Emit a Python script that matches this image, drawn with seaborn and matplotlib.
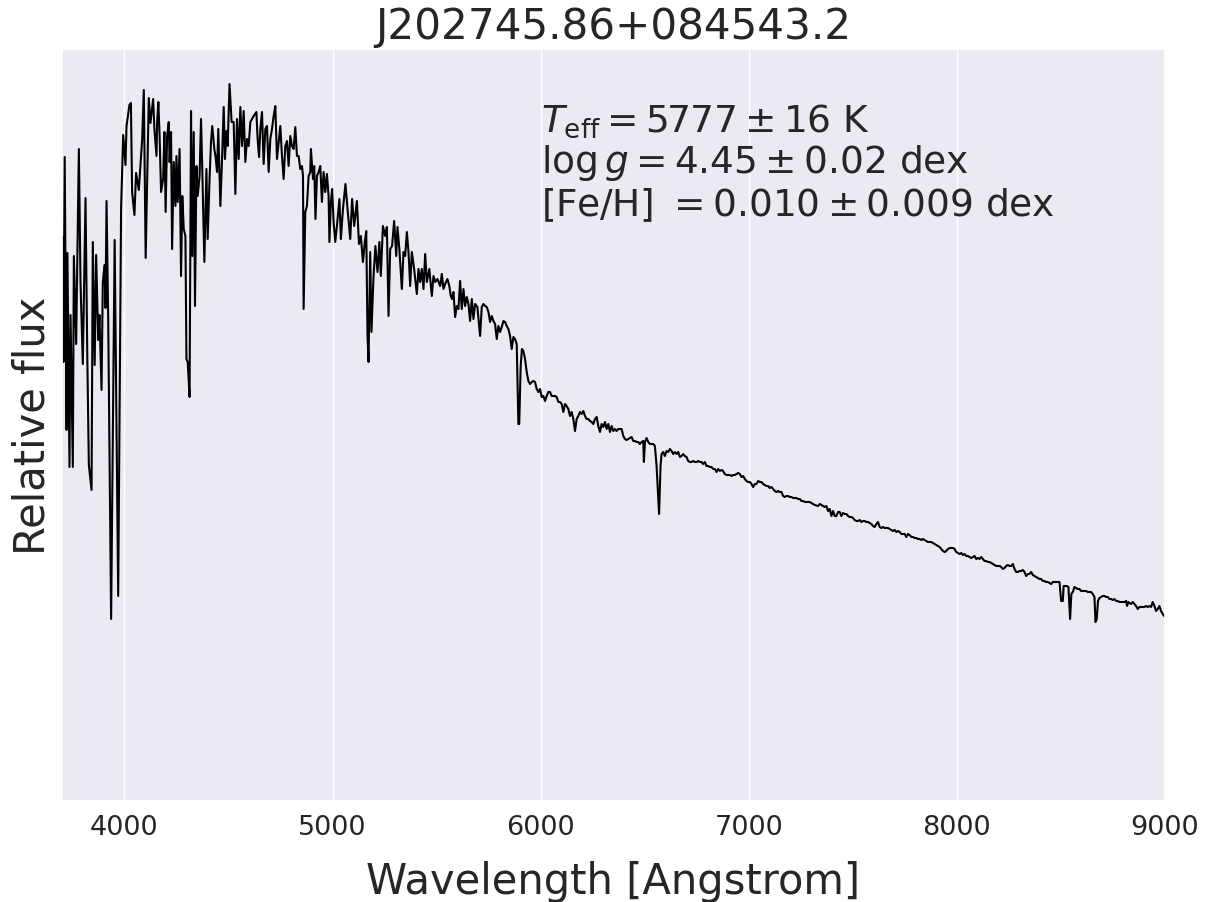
import matplotlib
matplotlib.use("Agg")
import numpy as np
import pandas as pd
import seaborn as sns
import matplotlib.pyplot as plt

TITLE = "J202745.86+084543.2"
XLABEL = "Wavelength [Angstrom]"
YLABEL = "Relative flux"
XTICKS = [4000, 5000, 6000, 7000, 8000, 9000]
PARAM_TEXT = (r"$T_{\rm eff} = 5777 \pm 16$ K" "\n"
              r"$\log g = 4.45 \pm 0.02$ dex" "\n"
              r"[Fe/H] $= 0.010 \pm 0.009$ dex")

# --- spectrum (wavelength in Angstrom, relative flux) ---
wave_uv = [3704, 3707, 3713, 3722, 3726, 3736, 3741, 3752, 3757, 3768, 3781, 3789,
           3800, 3813, 3821, 3829, 3842, 3848, 3857, 3864, 3874, 3880, 3890, 3896,
           3904, 3909, 3914, 3922, 3936, 3953, 3970, 3984, 3994, 4005, 4010, 4024,
           4031, 4037, 4048, 4056, 4069, 4085, 4093, 4102, 4117, 4125]
flux_uv = [5.64, 4.39, 6.44, 3.71, 5.48, 3.34, 4.86, 3.34, 5.45, 4.57, 6.52, 5.18,
           4.37, 6.03, 4.53, 3.36, 3.11, 5.59, 4.36, 5.46, 4.61, 4.86, 4.11, 5.18,
           5.36, 4.93, 6.00, 4.82, 1.82, 5.61, 2.05, 5.93, 6.66, 6.36, 6.75, 6.96,
           6.98, 6.09, 5.86, 6.28, 6.11, 6.61, 7.11, 5.43, 7.03, 6.78]

wave_blue = [4138, 4144, 4154, 4157, 4163, 4169, 4176, 4186, 4192, 4198, 4205, 4213,
             4217, 4224, 4229, 4237, 4245, 4250, 4256, 4265, 4272, 4278, 4285, 4293,
             4298, 4304, 4313, 4320, 4326, 4333, 4339, 4346, 4352, 4361, 4368, 4374,
             4384, 4394, 4400, 4409, 4416, 4422, 4432, 4438, 4445, 4451, 4461, 4469,
             4477, 4483, 4490, 4496, 4505, 4515, 4525, 4533, 4541, 4549, 4557, 4565,
             4573, 4581, 4589, 4597, 4605, 4621, 4634, 4640, 4647, 4653, 4661, 4669,
             4677, 4685, 4693, 4701, 4709, 4717, 4725, 4733, 4741, 4749, 4757, 4765,
             4773, 4781, 4789, 4797, 4805, 4813, 4821, 4829, 4837, 4845, 4853, 4858,
             4861, 4869, 4877, 4885, 4893]
flux_blue = [7.02, 6.72, 6.45, 6.79, 6.99, 6.65, 6.09, 6.22, 6.69, 5.89, 6.65, 6.79,
             6.39, 6.69, 5.52, 6.39, 5.95, 6.45, 5.99, 6.52, 5.25, 6.05, 5.72, 5.65,
             4.42, 4.39, 4.04, 6.90, 5.45, 6.69, 4.95, 6.35, 6.05, 6.25, 6.82, 6.32,
             5.39, 6.32, 5.62, 6.22, 6.59, 6.75, 6.52, 6.44, 6.29, 6.72, 5.95, 6.42,
             6.94, 6.42, 6.70, 6.55, 7.17, 6.79, 6.79, 6.07, 6.82, 6.42, 6.94, 6.55,
             6.90, 6.39, 6.62, 6.55, 6.79, 6.85, 6.89, 6.62, 6.44, 6.72, 6.89, 6.37,
             6.72, 6.75, 6.29, 6.62, 6.72, 6.85, 6.95, 6.42, 6.59, 6.75, 6.45, 6.22,
             6.55, 6.60, 6.35, 6.65, 6.55, 6.52, 6.74, 6.45, 6.45, 6.32, 6.35, 6.25,
             4.92, 5.89, 5.95, 6.25, 6.29]

wave_green = [4896, 4906, 4912, 4918, 4925, 4933, 4941, 4949, 4957, 4965, 4973, 4981,
              4985, 4992, 4998, 5005, 5013, 5021, 5033, 5040, 5050, 5062, 5072, 5085,
              5094, 5104, 5117, 5127, 5136, 5146, 5155, 5162, 5168, 5173, 5181, 5187,
              5197, 5206, 5216, 5225, 5232, 5242, 5253, 5261, 5269, 5277, 5286, 5296,
              5306, 5312, 5321, 5333, 5341, 5349, 5357, 5365, 5373, 5381, 5392, 5405,
              5413, 5421, 5429, 5437, 5445, 5453, 5465, 5477, 5485, 5493, 5504]
flux_green = [6.52, 6.22, 6.35, 5.82, 6.25, 6.29, 6.35, 5.99, 6.29, 6.09, 6.27, 6.05,
              5.59, 5.99, 6.12, 5.79, 5.59, 5.75, 6.02, 5.62, 5.92, 6.17, 5.92, 5.62,
              6.02, 5.75, 6.00, 5.57, 5.65, 5.39, 5.59, 5.70, 4.65, 4.39, 5.49, 4.69,
              5.25, 5.55, 5.29, 5.59, 5.25, 5.75, 5.65, 5.74, 4.85, 5.52, 5.55, 5.80,
              5.45, 5.74, 5.52, 5.12, 5.49, 5.45, 5.69, 5.49, 5.15, 5.49, 5.32, 5.07,
              5.32, 5.19, 5.32, 5.12, 5.47, 5.19, 5.32, 5.05, 5.25, 5.19, 5.22]

wave_yellow = [5517, 5525, 5533, 5541, 5552, 5561, 5568, 5574, 5581, 5589, 5597, 5605,
               5613, 5621, 5629, 5637, 5645, 5653, 5661, 5669, 5677, 5685, 5696, 5709,
               5717, 5725, 5733, 5741, 5749, 5757, 5765, 5773, 5781, 5789, 5797, 5805,
               5813, 5821, 5829, 5837, 5845, 5853, 5861, 5869, 5877, 5885, 5893, 5897,
               5904, 5910, 5917, 5925, 5933, 5941, 5949, 5957, 5965, 5973, 5981, 5989,
               5997, 6005, 6013, 6021, 6029, 6037, 6045, 6053, 6061, 6069, 6077, 6085,
               6093, 6101, 6109, 6117, 6125, 6133, 6141, 6149, 6157, 6165, 6173, 6181,
               6189, 6197, 6205, 6213, 6221, 6229, 6237, 6245, 6253, 6261, 6269, 6277,
               6285, 6293, 6301, 6309, 6317, 6325, 6333, 6341, 6349, 6357, 6365, 6373,
               6381, 6389, 6397, 6405, 6413, 6421]
flux_yellow = [5.15, 5.27, 5.12, 5.17, 5.22, 5.15, 5.05, 5.02, 5.09, 4.84, 4.95, 4.92,
               5.20, 4.92, 5.12, 4.95, 5.04, 4.97, 4.80, 5.02, 4.82, 4.97, 4.94, 4.65,
               4.94, 4.97, 4.95, 4.94, 4.89, 4.79, 4.85, 4.80, 4.77, 4.62, 4.75, 4.69,
               4.74, 4.80, 4.79, 4.75, 4.72, 4.65, 4.52, 4.64, 4.62, 4.57, 3.77, 3.77,
               4.35, 4.52, 4.50, 4.42, 4.29, 4.20, 4.17, 4.19, 4.20, 4.19, 4.12, 4.09,
               4.12, 4.04, 4.05, 4.00, 4.05, 4.09, 4.09, 4.05, 4.05, 4.05, 4.04, 3.99,
               3.99, 3.97, 3.89, 3.97, 3.95, 3.92, 3.85, 3.89, 3.82, 3.70, 3.82, 3.85,
               3.89, 3.87, 3.90, 3.85, 3.82, 3.82, 3.80, 3.79, 3.77, 3.82, 3.84, 3.75,
               3.69, 3.77, 3.74, 3.79, 3.72, 3.77, 3.69, 3.75, 3.70, 3.72, 3.70, 3.72,
               3.72, 3.72, 3.65, 3.62, 3.61, 3.62]

wave_red = [6429, 6437, 6445, 6453, 6461, 6469, 6477, 6485, 6493, 6496, 6501, 6509,
            6517, 6525, 6533, 6541, 6549, 6557, 6565, 6569, 6576, 6581, 6589, 6597,
            6605, 6613, 6621, 6629, 6637, 6645, 6653, 6661, 6669, 6677, 6685, 6693,
            6701, 6709, 6717, 6725, 6733, 6741, 6749, 6757, 6765, 6773, 6781, 6789,
            6797, 6805, 6813, 6821, 6829, 6837, 6845, 6853, 6861, 6869, 6877, 6885,
            6893, 6901, 6909, 6917, 6925, 6933, 6941, 6949, 6957, 6965, 6973, 6981,
            6989, 6997, 7005, 7013, 7021, 7029, 7037, 7045, 7053, 7061, 7069, 7077,
            7085, 7093, 7101, 7109, 7117, 7125, 7133, 7141, 7149, 7157, 7165, 7173,
            7181, 7189, 7197, 7205, 7213, 7221, 7229, 7237, 7245, 7253, 7261, 7269,
            7277, 7285, 7293, 7309, 7317, 7333]
flux_red = [3.63, 3.64, 3.60, 3.60, 3.59, 3.59, 3.57, 3.59, 3.60, 3.39, 3.59, 3.63,
            3.59, 3.57, 3.57, 3.57, 3.55, 3.35, 3.02, 2.87, 3.35, 3.47, 3.49, 3.45,
            3.50, 3.49, 3.52, 3.50, 3.47, 3.49, 3.47, 3.49, 3.44, 3.45, 3.47, 3.45,
            3.44, 3.40, 3.39, 3.39, 3.40, 3.39, 3.39, 3.40, 3.39, 3.39, 3.37, 3.39,
            3.35, 3.35, 3.34, 3.34, 3.32, 3.32, 3.29, 3.32, 3.30, 3.31, 3.30, 3.27,
            3.26, 3.26, 3.26, 3.25, 3.26, 3.26, 3.27, 3.28, 3.27, 3.24, 3.25, 3.22,
            3.20, 3.19, 3.19, 3.17, 3.14, 3.17, 3.17, 3.20, 3.19, 3.19, 3.17, 3.16,
            3.15, 3.15, 3.13, 3.14, 3.12, 3.10, 3.09, 3.10, 3.09, 3.09, 3.05, 3.04,
            3.05, 3.05, 3.04, 3.04, 3.03, 3.03, 3.03, 3.02, 3.02, 3.00, 3.00, 2.99,
            2.99, 2.99, 2.99, 2.97, 2.96, 2.95]

wave_nir = [7341, 7357, 7365, 7373, 7381, 7389, 7397, 7405, 7413, 7421, 7429, 7437,
            7445, 7453, 7461, 7469, 7477, 7485, 7493, 7501, 7509, 7517, 7525, 7533,
            7541, 7549, 7557, 7565, 7573, 7581, 7589, 7597, 7605, 7613, 7621, 7629,
            7637, 7645, 7653, 7661, 7669, 7677, 7685, 7693, 7701, 7709, 7717, 7725,
            7733, 7741, 7749, 7757, 7765, 7773, 7781, 7789, 7797, 7805, 7813, 7821,
            7829, 7837, 7845, 7853, 7861, 7869, 7877, 7885, 7893, 7901, 7909, 7917,
            7925, 7933, 7941, 7949, 7957, 7965, 7973, 7981, 7989, 7997, 8005, 8013,
            8021, 8029, 8037, 8045, 8053, 8061, 8069, 8077, 8085, 8093, 8101, 8109,
            8117, 8125, 8133, 8141, 8149, 8157, 8165, 8173, 8181, 8189, 8197, 8205,
            8213, 8221, 8229, 8237, 8245, 8253, 8261, 8269, 8277, 8285, 8293, 8301,
            8309, 8317, 8325, 8333, 8341, 8349, 8357, 8365, 8373, 8381, 8389, 8397,
            8405, 8413, 8421, 8429, 8437, 8445, 8453, 8461, 8469, 8477, 8485, 8493,
            8501, 8509, 8513, 8522, 8528, 8536, 8544, 8550, 8557, 8565, 8573, 8581,
            8589, 8597, 8605, 8613, 8621, 8629, 8637, 8645, 8653, 8661, 8666, 8672,
            8678, 8685, 8693, 8701, 8709, 8717, 8725, 8733, 8741, 8749, 8757, 8765,
            8773, 8781, 8789, 8797, 8805, 8813, 8818, 8823, 8829, 8837, 8845, 8853,
            8861, 8869, 8877, 8885, 8893, 8901, 8909, 8917, 8925, 8933, 8941, 8949,
            8957, 8965, 8973, 8981, 8989, 9000]
flux_nir = [2.97, 2.95, 2.94, 2.95, 2.90, 2.92, 2.85, 2.90, 2.85, 2.85, 2.89, 2.89,
            2.85, 2.88, 2.87, 2.87, 2.85, 2.84, 2.84, 2.83, 2.81, 2.80, 2.80, 2.81,
            2.79, 2.80, 2.80, 2.79, 2.79, 2.78, 2.77, 2.75, 2.74, 2.77, 2.79, 2.74,
            2.73, 2.74, 2.73, 2.73, 2.73, 2.72, 2.71, 2.70, 2.71, 2.69, 2.70, 2.69,
            2.67, 2.67, 2.67, 2.64, 2.67, 2.66, 2.64, 2.64, 2.63, 2.63, 2.62, 2.62,
            2.61, 2.62, 2.61, 2.60, 2.59, 2.59, 2.59, 2.58, 2.57, 2.56, 2.55, 2.54,
            2.52, 2.50, 2.49, 2.50, 2.52, 2.53, 2.53, 2.53, 2.52, 2.49, 2.48, 2.47,
            2.48, 2.46, 2.47, 2.45, 2.45, 2.44, 2.43, 2.44, 2.45, 2.42, 2.43, 2.42,
            2.44, 2.42, 2.40, 2.40, 2.39, 2.39, 2.38, 2.37, 2.36, 2.35, 2.35, 2.35,
            2.34, 2.32, 2.33, 2.35, 2.36, 2.35, 2.35, 2.37, 2.32, 2.29, 2.29, 2.30,
            2.30, 2.31, 2.29, 2.25, 2.27, 2.27, 2.29, 2.26, 2.25, 2.24, 2.23, 2.22,
            2.22, 2.20, 2.20, 2.19, 2.19, 2.18, 2.17, 2.19, 2.19, 2.19, 2.19, 2.19,
            2.00, 2.00, 2.15, 2.15, 2.15, 2.14, 1.82, 2.07, 2.09, 2.14, 2.13, 2.12,
            2.12, 2.10, 2.10, 2.10, 2.10, 2.09, 2.09, 2.09, 2.07, 2.04, 1.79, 1.82,
            2.00, 2.03, 2.04, 2.05, 2.05, 2.04, 2.04, 2.02, 2.02, 2.01, 2.02, 2.00,
            2.00, 1.99, 1.99, 1.99, 1.99, 2.00, 1.95, 1.99, 1.98, 1.97, 1.99, 1.97,
            1.95, 1.92, 1.94, 1.94, 1.94, 1.94, 1.95, 1.94, 1.95, 1.94, 1.99, 1.95,
            1.90, 1.92, 1.95, 1.90, 1.87, 1.84]

wave = np.concatenate([wave_uv, wave_blue, wave_green, wave_yellow, wave_red, wave_nir])
flux = np.concatenate([flux_uv, flux_blue, flux_green, flux_yellow, flux_red, flux_nir])
df = pd.DataFrame({"wavelength": wave, "flux": flux})

sns.set_theme(style="darkgrid")
plt.rcParams["font.family"] = ["DejaVu Sans"]

fig, ax = plt.subplots(figsize=(12.16, 9.03), dpi=100)
fig.subplots_adjust(left=62 / 1216, right=1165 / 1216, top=1 - 50 / 903, bottom=1 - 802 / 903)

sns.lineplot(data=df, x="wavelength", y="flux", color="black", linewidth=1.5,
             estimator=None, sort=False, ax=ax)

ax.set_xlim(3700, 9000)
ax.set_ylim(0, 7.52)
ax.set_xticks(XTICKS)
ax.set_yticks([])
ax.tick_params(axis="x", labelsize=19.5)
ax.set_xlabel(XLABEL, fontsize=30, labelpad=14)
ax.set_ylabel(YLABEL, fontsize=30, labelpad=6)
ax.set_title(TITLE, fontsize=30.3, pad=8)
ax.text(6000, 7.00, PARAM_TEXT, fontsize=27, va="top", ha="left", color="#262626",
        linespacing=1.12)

fig.savefig("out.png", dpi=100)
